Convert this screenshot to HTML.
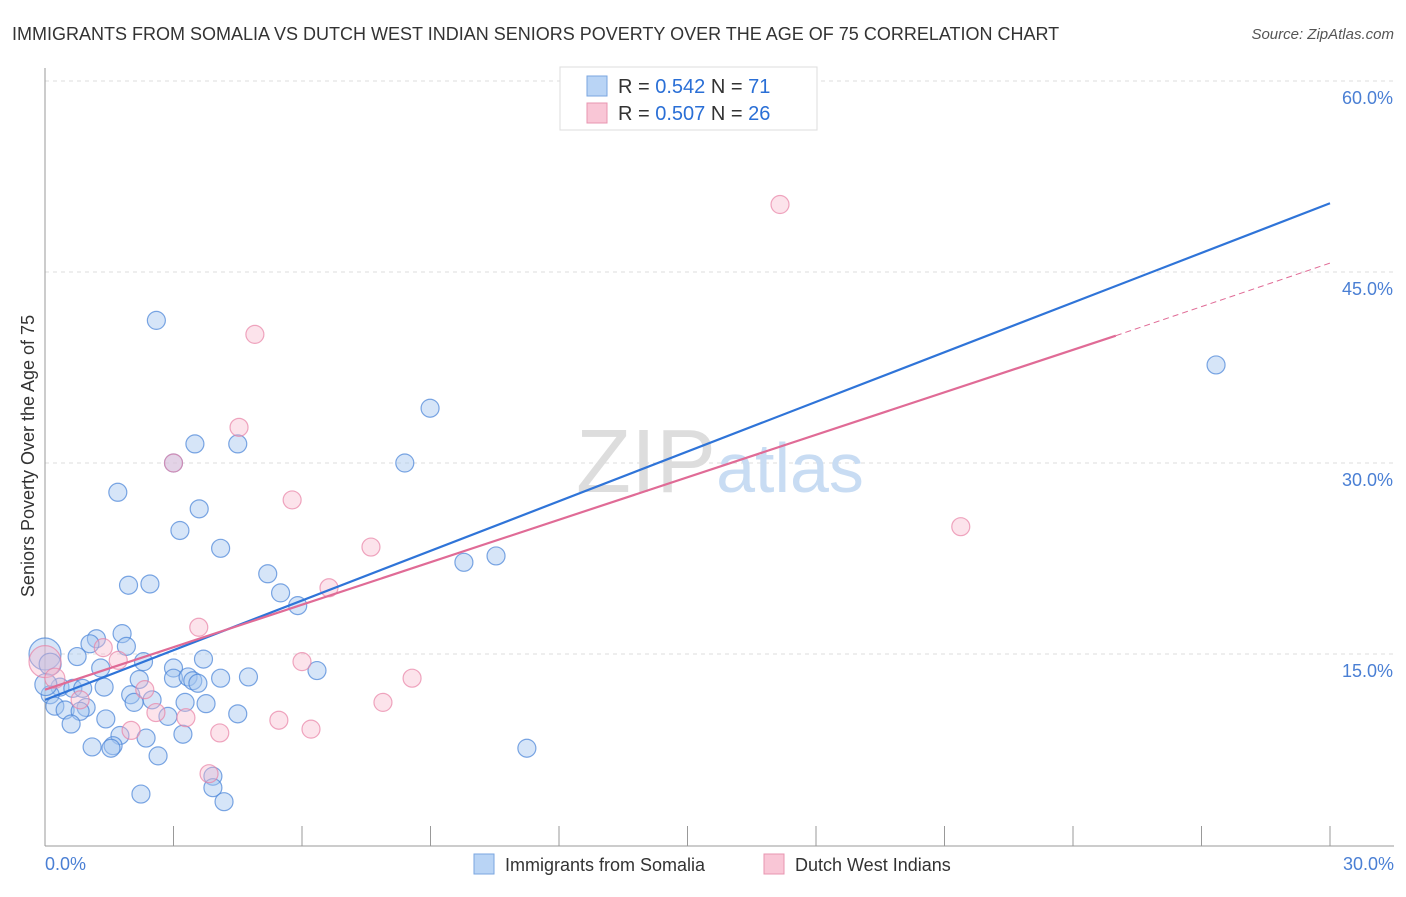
<!DOCTYPE html>
<html><head><meta charset="utf-8"><style>
body{margin:0;background:#fff;font-family:"Liberation Sans",sans-serif;}
svg text{font-family:"Liberation Sans",sans-serif;}
</style></head><body>
<svg width="1406" height="892" xmlns="http://www.w3.org/2000/svg">
<text x="12" y="40" font-size="18" fill="#333">IMMIGRANTS FROM SOMALIA VS DUTCH WEST INDIAN SENIORS POVERTY OVER THE AGE OF 75 CORRELATION CHART</text>
<text x="1394" y="39" font-size="15" fill="#555" font-style="italic" text-anchor="end">Source: ZipAtlas.com</text>
<g id="grid"></g>
<text x="720" y="492" font-size="90" fill="#ddd" text-anchor="middle" font-family="Liberation Serif">ZIP<tspan fill="#c8dcf3" font-family="Liberation Sans" font-size="70">atlas</tspan></text>
<line x1="45" y1="68" x2="45" y2="846" stroke="#999"/>
<line x1="45" y1="846" x2="1394" y2="846" stroke="#999"/>
<g id="xt"></g>
<text transform="translate(34,456) rotate(-90)" font-size="18" fill="#333" text-anchor="middle">Seniors Poverty Over the Age of 75</text>
<text x="45" y="870" font-size="18" fill="#4a7fd4">0.0%</text>
<text x="1394" y="870" font-size="18" fill="#4a7fd4" text-anchor="end">30.0%</text>
<g id="pts"></g>
<g id="lines"></g>
<g>
<rect x="560" y="67" width="257" height="63" fill="#fff" stroke="#ddd"/>
<rect x="587" y="76" width="20" height="20" fill="#b9d4f5" stroke="#7aa6e0"/>
<rect x="587" y="103" width="20" height="20" fill="#f9c6d6" stroke="#e895b0"/>
<text x="618" y="93" font-size="20" fill="#333">R = <tspan fill="#2a6fd6">0.542</tspan>   N = <tspan fill="#2a6fd6">71</tspan></text>
<text x="618" y="120" font-size="20" fill="#333">R = <tspan fill="#2a6fd6">0.507</tspan>   N = <tspan fill="#2a6fd6">26</tspan></text>
</g>
<g>
<rect x="474" y="854" width="20" height="20" fill="#b9d4f5" stroke="#7aa6e0"/>
<text x="505" y="871" font-size="18" fill="#333">Immigrants from Somalia</text>
<rect x="764" y="854" width="20" height="20" fill="#f9c6d6" stroke="#e895b0"/>
<text x="795" y="871" font-size="18" fill="#333">Dutch West Indians</text>
</g>
</svg>
<script>
const NS="http://www.w3.org/2000/svg";
const yTicks=[15,30,45,60];
const yTickLabels=["15.0%","30.0%","45.0%","60.0%"];
const xTicks=[0,3,6,9,12,15,18,21,24,27,30];
const blueX=[2.6,3.5,4.5,3.0,1.7,3.6,3.15,4.1,1.95,2.45,5.2,5.5,5.9,1.8,1.2,1.05,1.9,0.75,2.3,3.7,3.0,1.3,6.35,3.0,3.34,3.45,3.57,4.1,4.75,2.2,0.35,0.65,1.38,0.88,2.0,0.12,2.5,3.27,3.76,2.08,0.23,0.96,0.47,0.82,4.5,1.42,2.87,0.61,1.75,2.36,3.22,1.1,1.59,1.54,2.64,3.92,3.92,2.24,4.18,8.99,8.4,9.78,10.53,11.25,27.34,14.01,0,0.12,0.02];
const blueY=[41.2,31.5,31.5,30.0,27.7,26.4,24.7,23.3,20.4,20.5,21.3,19.8,18.8,16.6,16.2,15.8,15.6,14.8,14.4,14.6,13.9,13.9,13.7,13.1,13.2,12.9,12.7,13.1,13.2,13.0,12.4,12.3,12.4,12.3,11.8,11.8,11.4,11.2,11.1,11.2,10.9,10.8,10.6,10.5,10.3,9.9,10.1,9.5,8.6,8.4,8.7,7.7,7.8,7.6,7.0,5.4,4.5,4.0,3.4,34.3,30.0,22.2,22.7,7.6,37.7,60.0,15.0,14.2,12.6];
const pinkX=[17.16,4.9,4.53,3.0,5.77,7.61,6.63,3.59,1.36,1.71,6.0,8.57,2.33,0.82,2.59,3.29,5.46,7.89,6.21,2.01,4.08,3.83,21.38,0,0.23];
const pinkY=[50.3,40.1,32.8,30.0,27.1,23.4,20.2,17.1,15.5,14.5,14.4,13.1,12.2,11.4,10.4,10.0,9.8,11.2,9.1,9.0,8.8,5.6,25.0,14.4,13.1];
const blueLine=[0,11.4,30,50.4];
const pinkLine=[0,12.2,25,40,30,45.7];
const X=v=>45+v*(1285/30), Y=v=>845-v*(191/15);
function mk(t,a,p){const e=document.createElementNS(NS,t);for(const k in a)e.setAttribute(k,a[k]);p.appendChild(e);return e;}
const grid=document.getElementById('grid');
yTicks.forEach((t,i)=>{
 const l=mk('line',{x1:45,x2:1394,y1:Y(t),y2:Y(t),stroke:'#ddd','stroke-dasharray':'4,4'},grid);
 
 
 const tx=mk('text',{x:1393,y:Y(t)+23,'font-size':18,fill:'#4a7fd4','text-anchor':'end'},grid);
 tx.textContent=yTickLabels[i];
 
 
});
const xt=document.getElementById('xt');
xTicks.forEach(t=>{
 const l=mk('line',{x1:X(t),x2:X(t),y1:826,y2:846,stroke:'#999'},xt);
 
 
});
const pts=document.getElementById('pts');
blueX.forEach((x,i)=>{
 const r=(i>=66)?(i==66?16:11):9;
 const c=mk('circle',{cx:X(x),cy:Y(blueY[i]),r:r,fill:'rgba(165,198,240,0.45)',stroke:'rgba(70,130,215,0.7)','stroke-width':1.2},pts);
 
 
});
pinkX.forEach((x,i)=>{
 const r=(i>=23)?(i==23?16:10):9;
 const c=mk('circle',{cx:X(x),cy:Y(pinkY[i]),r:r,fill:'rgba(248,185,205,0.4)',stroke:'rgba(232,130,165,0.7)','stroke-width':1.2},pts);
 
 
});
const lg=document.getElementById('lines');
let b=mk('line',{x1:X(blueLine[0]),y1:Y(blueLine[1]),x2:X(blueLine[2]),y2:Y(blueLine[3]),stroke:'#2f74d8','stroke-width':2.2},lg);


let p=mk('line',{x1:X(pinkLine[0]),y1:Y(pinkLine[1]),x2:X(pinkLine[2]),y2:Y(pinkLine[3]),stroke:'#e06b96','stroke-width':2.2},lg);


let pd=mk('line',{x1:X(pinkLine[2]),y1:Y(pinkLine[3]),x2:X(pinkLine[4]),y2:Y(pinkLine[5]),stroke:'#e06b96','stroke-width':1,'stroke-dasharray':'6,4'},lg);


</script>
</body></html>
